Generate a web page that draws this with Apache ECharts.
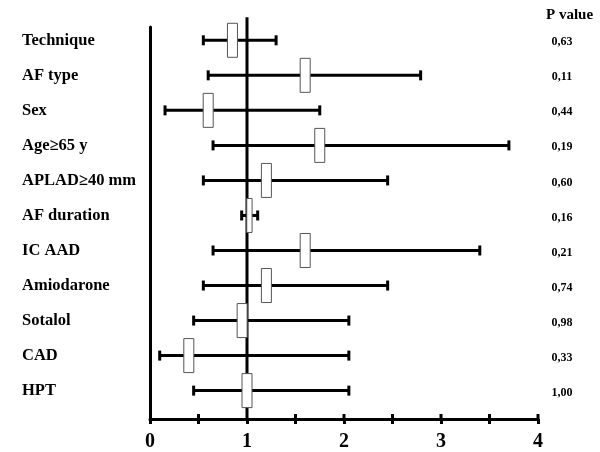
<!DOCTYPE html>
<html>
<head>
<meta charset="utf-8">
<script src="https://cdn.jsdelivr.net/npm/echarts@6/dist/echarts.min.js"></script>
<style>
  html, body { margin: 0; padding: 0; background: #fff; }
  #forest_chart { width: 600px; height: 452px; }
</style>
</head>
<body>
<div id="forest_chart"></div>
<script>
// rows, top to bottom
const factors = ["Technique", "AF type", "Sex", "Age≥65 y", "APLAD≥40 mm", "AF duration",
  "IC AAD", "Amiodarone", "Sotalol", "CAD", "HPT"];
const estimate = [0.85, 1.60, 0.60, 1.75, 1.20, 1.025, 1.60, 1.20, 0.95, 0.40, 1.00];
const ciLow = [0.55, 0.60, 0.155, 0.65, 0.55, 0.945, 0.65, 0.55, 0.45, 0.10, 0.45];
const ciHigh = [1.30, 2.79, 1.75, 3.70, 2.45, 1.11, 3.40, 2.45, 2.05, 2.05, 2.05];
const pValues = ["0,63", "0,11", "0,44", "0,19", "0,60", "0,16", "0,21", "0,74", "0,98", "0,33", "1,00"];
const xTicks = [0, 1, 2, 3, 4];
const minorTicks = [0.5, 1.5, 2, 2.5, 3, 3.5, 4];

const font = '"Liberation Serif", "Times New Roman", serif';
const yMin = -0.38, yMax = 10.81;

let rows = factors.map((name, i) => [i, estimate[i], ciLow[i], ciHigh[i]]);

let myCharts = echarts.init(document.getElementById("forest_chart"));

let option = {
  backgroundColor: "#fff",
  animation: false,
  textStyle: { fontFamily: font },
  title: {
    text: "P value",
    left: 541,
    top: 3,
    textStyle: { fontFamily: font, fontSize: 15, fontWeight: "bold", color: "#000" },
  },
  grid: { left: 150, right: 62, top: 27, bottom: 29 },
  xAxis: {
    type: "value",
    min: 0,
    max: 4,
    interval: 0.5,
    splitLine: { show: false },
    axisLine: { onZero: false, lineStyle: { color: "#000", width: 3 } },
    axisTick: { length: 5, lineStyle: { color: "#000", width: 3 } },
    axisLabel: {
      margin: 13,
      color: "#000",
      fontSize: 20,
      fontWeight: "bold",
      fontFamily: font,
      formatter: (v) => (xTicks.includes(v) ? String(v) : ""),
    },
  },
  yAxis: {
    type: "value",
    inverse: true,
    min: yMin,
    max: yMax,
    splitLine: { show: false },
    axisTick: { show: false },
    axisLabel: { show: false },
    axisLine: { show: true, onZero: false, lineStyle: { color: "#000", width: 3 } },
  },
  series: [
    {
      // upper half of the ticks, crossing the x axis
      type: "custom",
      data: minorTicks.map((t) => [t, yMax]),
      renderItem: (params, api) => {
        let p = api.coord([api.value(0), api.value(1)]);
        return {
          type: "line",
          shape: { x1: p[0], y1: p[1], x2: p[0], y2: p[1] - 5 },
          style: { stroke: "#000", lineWidth: 3 },
        };
      },
    },
    {
      // reference line at 1
      type: "custom",
      data: [[1, -0.66, yMax]],
      renderItem: (params, api) => {
        let a = api.coord([api.value(0), api.value(1)]);
        let b = api.coord([api.value(0), api.value(2)]);
        return {
          type: "line",
          shape: { x1: a[0], y1: a[1], x2: b[0], y2: b[1] },
          style: { stroke: "#000", lineWidth: 3 },
        };
      },
    },
    {
      type: "custom",
      data: rows,
      renderItem: (params, api) => {
        let i = api.value(0);
        let mid = api.coord([api.value(1), i]);
        let lo = api.coord([api.value(2), i]);
        let hi = api.coord([api.value(3), i]);
        let boxW = Math.min(10, (hi[0] - lo[0]) / 3);
        let boxH = 34;
        let capH = 10;
        let rowY = mid[1];
        let pX = api.coord([4, i])[0] + 24;
        let labelX = api.coord([0, i])[0] - 128;
        return {
          type: "group",
          children: [
            {
              type: "line",
              shape: { x1: lo[0], y1: rowY, x2: hi[0], y2: rowY },
              style: { stroke: "#000", lineWidth: 3 },
            },
            {
              type: "rect",
              shape: { x: lo[0] - 1.5, y: rowY - capH / 2, width: 3, height: capH },
              style: { fill: "#000" },
            },
            {
              type: "rect",
              shape: { x: hi[0] - 1.5, y: rowY - capH / 2, width: 3, height: capH },
              style: { fill: "#000" },
            },
            {
              type: "rect",
              shape: { x: mid[0] - boxW / 2, y: rowY - boxH / 2, width: boxW, height: boxH },
              style: { fill: "#fff", stroke: "#555", lineWidth: 1 },
            },
            {
              type: "text",
              x: labelX,
              y: rowY,
              style: {
                text: factors[i],
                fill: "#000",
                font: "bold 16.5px " + font,
                align: "left",
                verticalAlign: "middle",
              },
            },
            {
              type: "text",
              x: pX,
              y: rowY + 2,
              style: {
                text: pValues[i],
                fill: "#000",
                font: "bold 12px " + font,
                align: "center",
                verticalAlign: "middle",
              },
            },
          ],
        };
      },
    },
  ],
};

myCharts.setOption(option);
</script>
</body>
</html>
